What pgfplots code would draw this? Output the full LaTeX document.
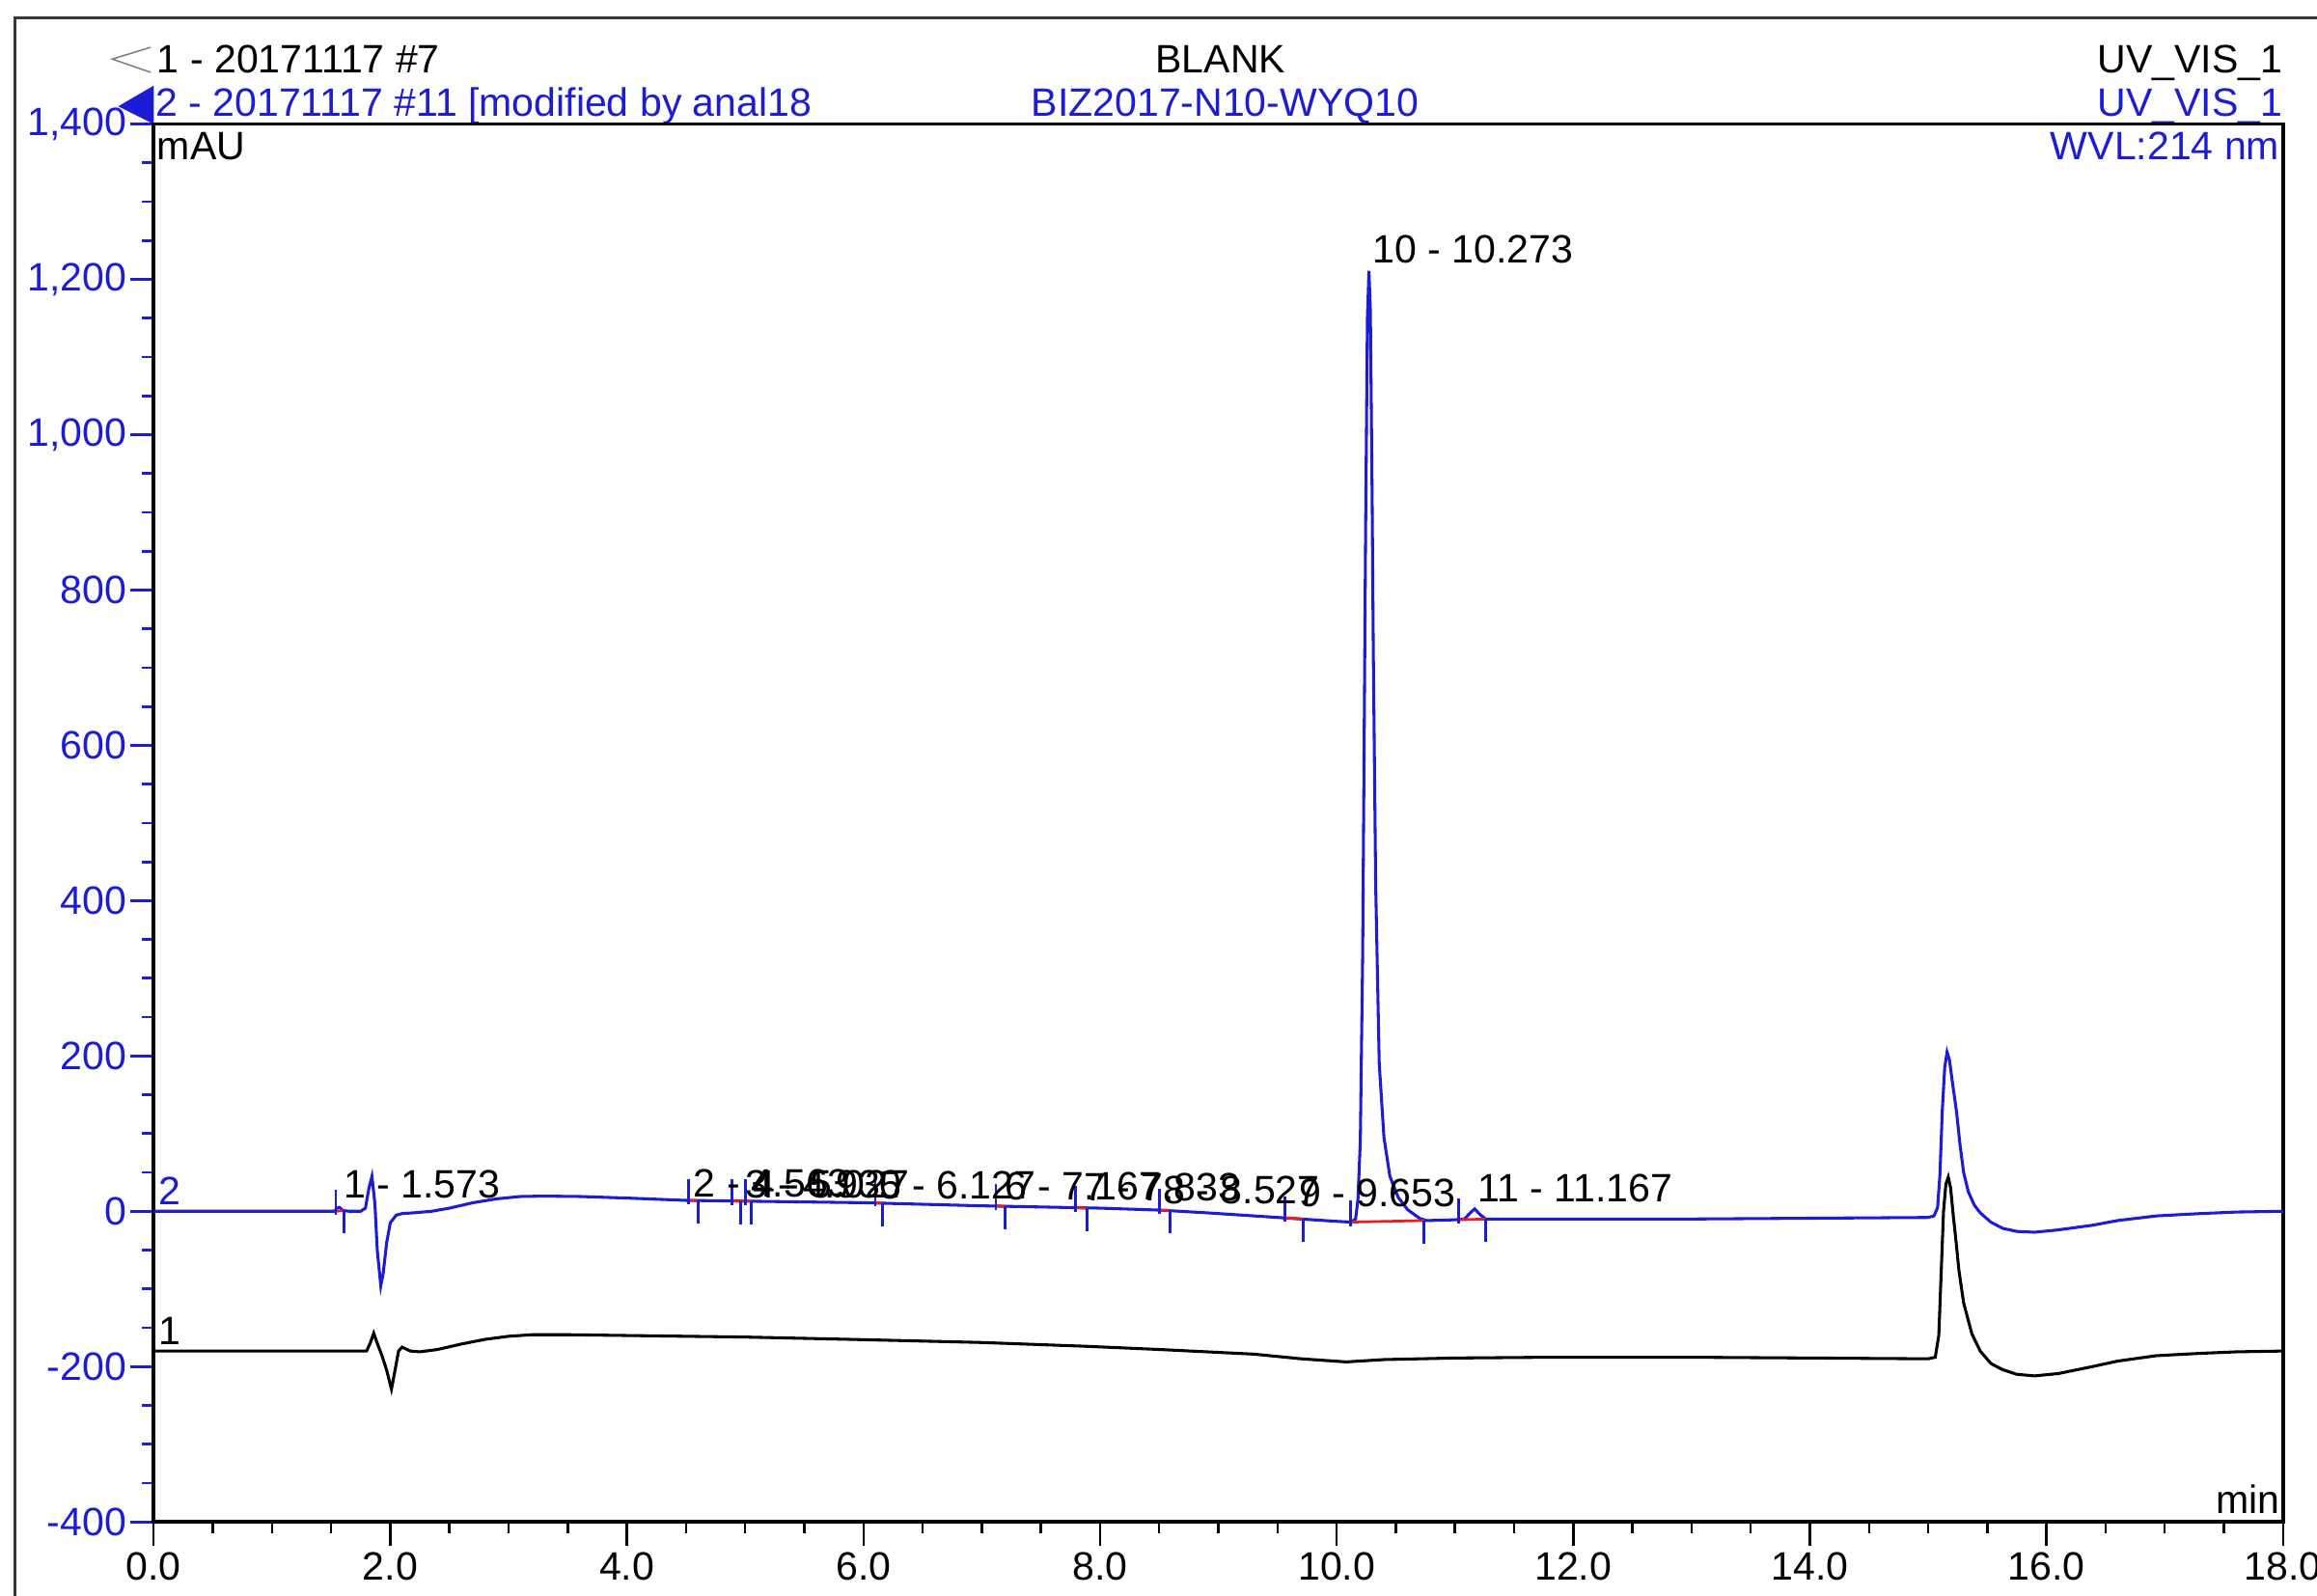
\documentclass[border=0pt]{standalone}
\usepackage{fontspec}
\setmainfont{Liberation Sans}
\usepackage{pgfplots}
\pgfplotsset{compat=1.18}
\definecolor{cblue}{RGB}{28,28,215}
\definecolor{cred}{RGB}{235,30,30}
\definecolor{framegray}{RGB}{55,55,55}

\begin{document}
\begin{tikzpicture}[font=\fontsize{13.4}{16}\selectfont]
\useasboundingbox (0,0) rectangle (784pt,540pt);
% outer frame
\draw[framegray, line width=0.9pt] (5pt,-5pt) -- (5pt,534pt) -- (795pt,534pt);

% header
\draw[gray, line width=0.5pt] (51pt,524pt) -- (38pt,520pt) -- (51pt,515.5pt);
\fill[cblue] (52pt,511pt) -- (40pt,504pt) -- (52pt,498pt) -- cycle;
\node[anchor=base west, inner sep=0] at (53pt,515.5pt) {1 - 20171117 \#7};
\node[anchor=base west, inner sep=0, text=cblue] at (52.5pt,500.5pt) {2 - 20171117 \#11 [modified by anal18};
\node[anchor=base, inner sep=0] at (413pt,515.5pt) {BLANK};
\node[anchor=base, inner sep=0, text=cblue] at (414.5pt,500.5pt) {BIZ2017-N10-WYQ10};
\node[anchor=base east, inner sep=0] at (772.5pt,515.5pt) {UV\_VIS\_1};
\node[anchor=base east, inner sep=0, text=cblue] at (772.5pt,500.5pt) {UV\_VIS\_1};

\begin{axis}[
  at={(52pt,25pt)}, anchor=south west, scale only axis,
  width=720.5pt, height=473pt,
  xmin=0, xmax=18, ymin=-400, ymax=1400,
  xtick={0,2,...,18}, minor x tick num=3,
  ytick={-400,-200,...,1400}, minor y tick num=3,
  tick pos=left,
  tick align=outside, major tick length=8pt, minor tick length=4pt,
  axis line style={line width=1.2pt},
  xtick style={black, line width=0.8pt},
  ytick style={cblue, line width=0.9pt},
  xticklabel style={inner sep=2pt, /pgf/number format/.cd, fixed, fixed zerofill, precision=1, assume math mode=true},
  yticklabel style={text=cblue, inner sep=1pt, /pgf/number format/.cd, fixed, precision=0, 1000 sep={,}, assume math mode=true},
  clip mode=individual,
]

% trace 1: 20171117 #7 (black)
\addplot[black, line width=1pt] coordinates {
(0,-180) (1.50,-180) (1.80,-180) (1.83,-170) (1.86,-157) (1.89,-170) (1.93,-186)
(1.97,-205) (2.01,-229) (2.04,-205) (2.07,-180) (2.10,-175) (2.17,-180) (2.25,-181)
(2.40,-178) (2.60,-171) (2.80,-165) (3.00,-161) (3.20,-159) (3.50,-159) (4.00,-160)
(5.00,-162) (5.90,-165) (7.00,-169) (7.90,-174) (8.50,-178) (9.30,-184) (9.70,-190)
(10.08,-194) (10.40,-191) (11.00,-189) (11.80,-188) (13.00,-188) (14.00,-189) (15.00,-190)
(15.06,-188) (15.09,-160) (15.11,-80) (15.13,0) (15.15,35) (15.17,44) (15.19,30)
(15.21,-2) (15.24,-45) (15.26,-76) (15.30,-118) (15.37,-158) (15.44,-180) (15.53,-196)
(15.63,-204) (15.75,-210) (15.90,-212) (16.10,-209) (16.39,-200) (16.60,-193) (16.93,-186)
(17.30,-183) (17.61,-181) (18,-180)
};

% trace 2: 20171117 #11 (blue)
\addplot[cblue, line width=1pt] coordinates {
(0,0) (1.50,0) (1.53,0) (1.55,4) (1.57,5) (1.60,1) (1.65,0) (1.75,0) (1.79,4)
(1.82,30) (1.845,45) (1.87,10) (1.89,-50) (1.92,-96) (1.94,-80) (1.97,-40) (2.00,-15)
(2.05,-5) (2.10,-3) (2.20,-2) (2.35,0) (2.50,4) (2.70,11) (2.90,16) (3.10,19) (3.30,19.5)
(3.60,19) (4.00,17) (4.50,14) (5.00,13) (5.50,12) (6.00,11) (6.50,9) (7.00,7) (7.50,5.5)
(8.00,4) (8.50,1.5) (8.90,-2) (9.20,-5) (9.50,-8) (9.80,-11) (10.00,-13) (10.12,-14)
(10.16,-10) (10.18,15) (10.20,90) (10.22,330) (10.245,880) (10.26,1150) (10.273,1211)
(10.285,1160) (10.30,920) (10.31,720) (10.33,420) (10.36,190) (10.40,95) (10.45,45)
(10.52,18) (10.60,2) (10.70,-9) (10.76,-12) (11.00,-11) (11.08,-10) (11.13,-2) (11.167,3)
(11.21,-4) (11.26,-10) (12,-10) (13,-10) (14,-9) (15.00,-8) (15.05,-6) (15.08,5)
(15.10,48) (15.12,131) (15.14,185) (15.16,205) (15.18,195) (15.20,172) (15.22,150)
(15.24,128) (15.27,85) (15.30,50) (15.34,25) (15.39,8) (15.44,-2) (15.53,-14) (15.63,-22)
(15.75,-26) (15.90,-27) (16.10,-24) (16.39,-18) (16.60,-12) (16.93,-6) (17.30,-3)
(17.61,-1) (18,0)
};

% integration baselines
\addplot[cred, line width=0.9pt, unbounded coords=jump] coordinates {
(1.54,0) (1.61,1) (nan,nan)
(4.52,14) (4.60,14) (nan,nan)
(4.89,13) (5.05,13) (nan,nan)
(6.10,11) (6.16,10.5) (nan,nan)
(7.12,7) (7.20,6.5) (nan,nan)
(7.79,4.5) (7.89,4) (nan,nan)
(8.50,1.5) (8.59,1) (nan,nan)
(9.56,-8.5) (9.72,-10) (nan,nan)
(10.12,-14) (10.74,-12) (nan,nan)
(11.03,-11) (11.26,-10)
};

% peak start / end delimiters
\addplot[cblue, line width=0.9pt, only marks, mark=|, mark size=4.3pt, mark options={yshift=3pt}] coordinates {
(1.54,0) (4.52,14) (4.89,13) (5.00,13) (6.10,11) (7.12,7) (7.79,4.5) (8.50,1.5)
(9.56,-8.5) (10.12,-14) (11.03,-11)
};
\addplot[cblue, line width=0.9pt, only marks, mark=|, mark size=3.9pt, mark options={yshift=-3.9pt}] coordinates {
(1.61,1) (4.60,14) (4.96,13) (5.05,13) (6.16,10.5) (7.20,6.5) (7.89,4) (8.59,1)
(9.72,-10) (10.74,-12) (11.26,-10)
};

% peak labels
\node[anchor=base west, inner sep=0] at (axis cs:1.60,17) {1 - 1.573};
\node[anchor=base west, inner sep=0] at (axis cs:4.56,18) {2 - 4.563};
\node[anchor=base west, inner sep=0] at (axis cs:5.00,17) {3 - 4.930};
\node[anchor=base west, inner sep=0] at (axis cs:5.06,17) {4 - 5.027};
\node[anchor=base west, inner sep=0] at (axis cs:6.13,16) {5 - 6.127};
\node[anchor=base west, inner sep=0] at (axis cs:7.19,15) {6 - 7.167};
\node[anchor=base west, inner sep=0] at (axis cs:7.86,14) {7 - 7.833};
\node[anchor=base west, inner sep=0] at (axis cs:8.53,10) {8 - 8.527};
\node[anchor=base west, inner sep=0] at (axis cs:9.68,6) {9 - 9.653};
\node[anchor=base west, inner sep=0] at (axis cs:10.30,1221) {10 - 10.273};
\node[anchor=base west, inner sep=0] at (axis cs:11.19,12) {11 - 11.167};

% trace numbers and axis units
\node[anchor=base west, inner sep=0, text=cblue] at (axis cs:0.04,8) {2};
\node[anchor=base west, inner sep=0] at (axis cs:0.04,-172) {1};
\node[anchor=north west, inner sep=0, xshift=1pt, yshift=-2.5pt] at (rel axis cs:0,1) {mAU};
\node[anchor=north east, inner sep=0, xshift=-1pt, yshift=-2.5pt, text=cblue] at (rel axis cs:1,1) {WVL:214 nm};
\node[anchor=south east, inner sep=0, xshift=-1pt, yshift=2.5pt] at (rel axis cs:1,0) {min};
\end{axis}
\end{tikzpicture}
\end{document}
